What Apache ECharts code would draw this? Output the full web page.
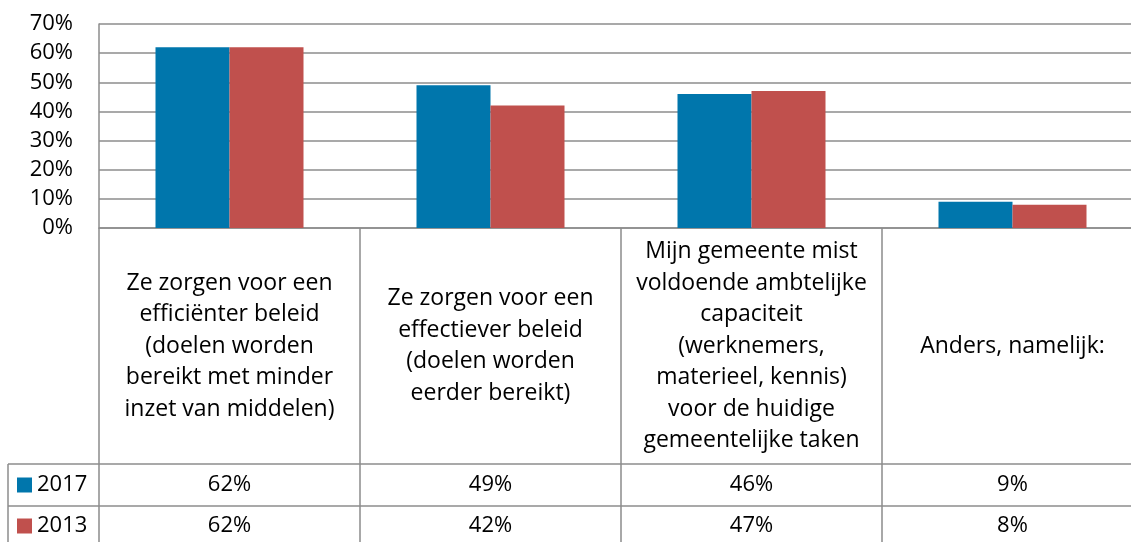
<!DOCTYPE html>
<html>
<head>
<meta charset="utf-8">
<script src="https://cdn.jsdelivr.net/npm/echarts@6/dist/echarts.min.js"></script>
<style>
  html, body { margin: 0; padding: 0; background: #fff; }
  #chart { width: 1131px; height: 542px; }
</style>
</head>
<body>
<div id="chart"></div>
<script>
// categorieen (met regeleinden zoals in de tabel)
const categories = [
  'Ze zorgen voor een\nefficiënter beleid\n(doelen worden\nbereikt met minder\ninzet van middelen)',
  'Ze zorgen voor een\neffectiever beleid\n(doelen worden\neerder bereikt)',
  'Mijn gemeente mist\nvoldoende ambtelijke\ncapaciteit\n(werknemers,\nmaterieel, kennis)\nvoor de huidige\ngemeentelijke taken',
  'Anders, namelijk:'
]
const seriesNames = ['2017', '2013']
const values2017 = [62, 49, 46, 9]
const values2013 = [62, 42, 47, 8]
const yTicks = [0, 10, 20, 30, 40, 50, 60, 70]

const colors = ['#0076AC', '#C0504D']
const lineColor = '#8c8c8c'
const font = '"Open Sans", Lato, sans-serif'
const fontSize = 22

const chart = echarts.init(document.getElementById('chart'))

// extra x-as als tabelrij met waarden
function tableRowAxis(vals, offset) {
  return {
    type: 'category',
    data: categories,
    position: 'bottom',
    offset: offset,
    axisLine: { show: false },
    axisTick: { show: false },
    axisLabel: {
      interval: 0,
      margin: 0,
      verticalAlign: 'middle',
      fontFamily: font,
      fontSize: fontSize,
      color: '#000',
      formatter: (v, idx) => vals[idx] + '%'
    }
  }
}

// legenda per tabelrij
function rowLegend(name, top) {
  return {
    left: 12,
    top: top,
    itemWidth: 15,
    itemHeight: 15,
    itemGap: 0,
    icon: 'rect',
    selectedMode: false,
    textStyle: { fontFamily: font, fontSize: fontSize, color: '#000' },
    data: [name]
  }
}

const option = {
  animation: false,
  color: colors,
  // plotgebied loopt iets voorbij de rechterrand (zoals in het origineel)
  grid: { left: 99, top: 24, width: 1044, height: 204, containLabel: false, outerBoundsMode: 'none' },
  legend: [rowLegend(seriesNames[0], 469), rowLegend(seriesNames[1], 510)],
  xAxis: [
    {
      type: 'category',
      data: categories,
      axisLine: { lineStyle: { color: lineColor, width: 1.5 } },
      axisTick: { show: true, length: 314, lineStyle: { color: lineColor, width: 1.5 } },
      axisLabel: {
        interval: 0,
        margin: 118,
        verticalAlign: 'middle',
        align: 'center',
        fontFamily: font,
        fontSize: 23,
        lineHeight: 31.5,
        color: '#000'
      }
    },
    tableRowAxis(values2017, 257),
    tableRowAxis(values2013, 298)
  ],
  yAxis: {
    type: 'value',
    min: yTicks[0],
    max: yTicks[yTicks.length - 1],
    interval: 10,
    axisLine: { show: true, lineStyle: { color: lineColor, width: 1.5 } },
    axisTick: { show: false },
    splitLine: { lineStyle: { color: lineColor, width: 1.5 } },
    axisLabel: {
      margin: 26,
      fontFamily: font,
      fontSize: fontSize,
      color: '#000',
      formatter: '{value}%'
    }
  },
  graphic: [
    { type: 'line', shape: { x1: 8, y1: 464, x2: 1131, y2: 464 }, style: { stroke: lineColor, lineWidth: 1.5 } },
    { type: 'line', shape: { x1: 8, y1: 506, x2: 1131, y2: 506 }, style: { stroke: lineColor, lineWidth: 1.5 } },
    { type: 'line', shape: { x1: 8, y1: 464, x2: 8, y2: 542 }, style: { stroke: lineColor, lineWidth: 1.5 } }
  ],
  series: [
    {
      name: seriesNames[0],
      type: 'bar',
      xAxisIndex: 0,
      data: values2017,
      barWidth: 74,
      barGap: '0%'
    },
    {
      name: seriesNames[1],
      type: 'bar',
      xAxisIndex: 0,
      data: values2013,
      barWidth: 74,
      barGap: '0%'
    }
  ]
}

chart.setOption(option)
</script>
</body>
</html>
